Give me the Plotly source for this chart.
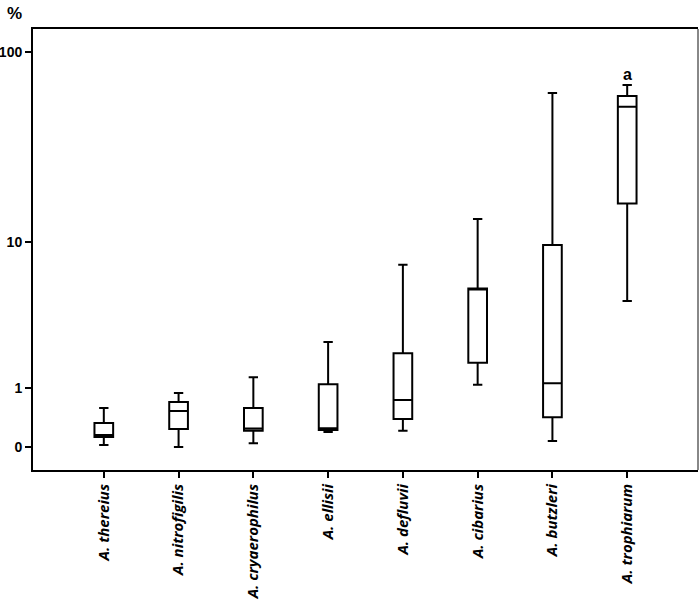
import math
import plotly.graph_objects as go

species = ["A. thereius", "A. nitrofigilis", "A. cryaerophilus", "A. ellisii",
           "A. defluvii", "A. cibarius", "A. butzleri", "A. trophiarum"]
lower = [0.024, 0.0, 0.044, 0.19, 0.21, 1.07, 0.073, 4.5]
q1 = [0.124, 0.234, 0.21, 0.22, 0.387, 1.68, 0.415, 16.2]
median = [0.15, 0.522, 0.241, 0.245, 0.732, 5.3, 1.105, 52.3]
q3 = [0.324, 0.691, 0.577, 1.08, 1.99, 5.38, 9.6, 59.4]
upper = [0.577, 0.879, 1.258, 2.41, 7.41, 13.35, 61.5, 67.6]
tick_vals = [0, 1, 10, 100]
tick_text = ["0", "1", "10", "100"]

# the axis is log(x + 1)
def sh(a):
    return [v + 1 for v in a]

fig = go.Figure()
fig.add_trace(go.Box(
    x=species,
    q1=sh(q1), median=sh(median), q3=sh(q3),
    lowerfence=sh(lower), upperfence=sh(upper),
    fillcolor="white",
    line=dict(color="black", width=2),
    width=0.25,
    whiskerwidth=0.5,
    boxpoints=False,
    showlegend=False,
    hoverinfo="skip",
))

fig.add_annotation(x=species[-1], y=math.log10(upper[-1] + 1), yref="y", text="<b>a</b>",
                   showarrow=False, yanchor="bottom", yshift=0,
                   font=dict(family="Liberation Sans", size=16, color="black"))
fig.add_annotation(x=0.0, y=1.0, xref="paper", yref="paper", xshift=-28, yshift=27,
                   text="<b>%</b>", showarrow=False, xanchor="left", yanchor="top",
                   font=dict(family="Liberation Sans", size=17, color="black"))

fig.add_shape(type="line", xref="paper", yref="paper", x0=1, x1=1, y0=0, y1=1,
              line=dict(color="#888888", width=2))

fig.update_layout(
    width=700, height=610,
    margin=dict(l=33, r=2, t=29, b=140),
    paper_bgcolor="white", plot_bgcolor="white",
    xaxis=dict(
        range=[-0.947, 7.947], automargin=False,
        showline=True, linecolor="black", linewidth=2, mirror=True,
        ticks="outside", ticklen=6, tickwidth=2, tickcolor="black",
        tickangle=-90, showgrid=False,
        tickfont=dict(family="Open Sans", size=15, color="black", weight="bold", style="italic"),
    ),
    yaxis=dict(
        type="log", automargin=False,
        range=[-0.1167, 2.121],
        tickvals=sh(tick_vals), ticktext=tick_text,
        showline=True, linecolor="black", linewidth=2,
        ticks="outside", ticklen=6, tickwidth=2, tickcolor="black",
        showgrid=False, zeroline=False,
        tickfont=dict(family="Liberation Sans", size=14, color="black", weight="bold"),
    ),
)

fig.write_html("out.html", config={"displayModeBar": False},
               post_script="document.body.style.margin='0';")
